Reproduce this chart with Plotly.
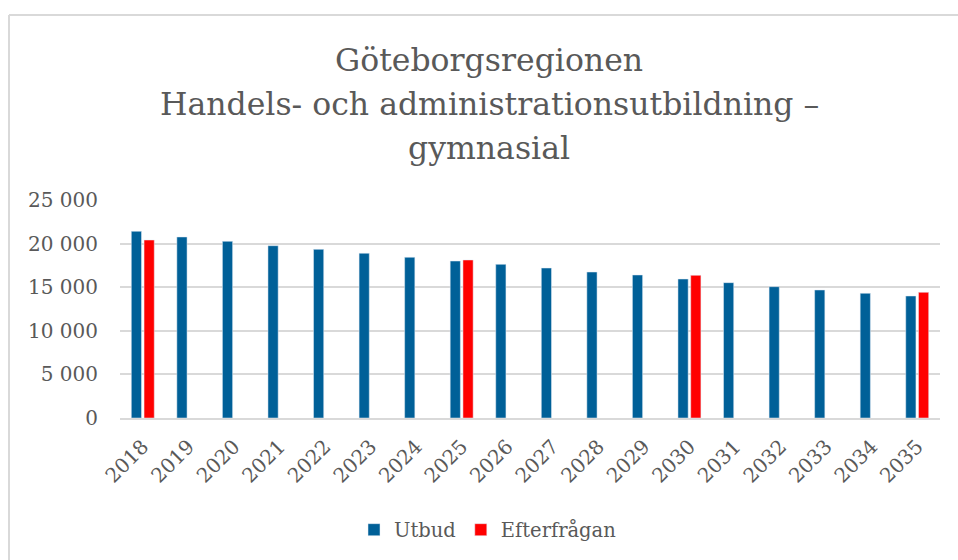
import plotly.graph_objects as go

years = [str(y) for y in range(2018, 2036)]
utbud = [21410, 20760, 20260, 19760, 19340, 18890, 18430, 18000, 17620, 17200,
         16740, 16400, 15940, 15520, 15060, 14680, 14300, 13990]
efterfragan = [20410, None, None, None, None, None, None, 18120, None, None,
               None, None, 16360, None, None, None, None, 14410]
ytick_vals = [0, 5000, 10000, 15000, 20000, 25000]
ytick_text = ["0", "5 000", "10 000", "15 000", "20 000", "25 000"]
title_lines = ["Göteborgsregionen", "Handels- och administrationsutbildning –", "gymnasial"]

FONT = "DejaVu Serif"
TXT = "#595959"

fig = go.Figure()
fig.add_bar(x=years, y=utbud, name="Utbud", marker_color="#006098")
fig.add_bar(x=years, y=efterfragan, name="Efterfrågan", marker_color="#FF0000")

W, H = 958, 560
L, R, T, B = 120, 18, 200, 142
PW, PH = W - L - R, H - T - B


def px(x):
    return (x - L) / PW


def py(y):
    return (H - B - y) / PH


title_y = [60, 104, 148]
annotations = [
    dict(text=t, xref="paper", yref="paper", x=px(489), y=py(yy), xanchor="center",
         yanchor="middle", showarrow=False, font=dict(family=FONT, size=31.5, color=TXT))
    for t, yy in zip(title_lines, title_y)
]

fig.update_layout(
    width=W, height=H,
    margin=dict(l=L, r=R, t=T, b=B, autoexpand=False),
    paper_bgcolor="white", plot_bgcolor="white",
    barmode="group", bargap=0.44, bargroupgap=0.2,
    font=dict(family=FONT, color=TXT, size=20),
    annotations=annotations,
    legend=dict(orientation="h", x=px(488), xanchor="center", y=py(530), yanchor="middle",
                font=dict(family=FONT, size=19.5, color=TXT), itemwidth=30,
                traceorder="normal"),
    xaxis=dict(showgrid=False, tickangle=-45, showline=True, linecolor="#D9D9D9",
               linewidth=2, ticks="", tickfont=dict(size=20), automargin=False,
               ticklabelstandoff=7),
    yaxis=dict(range=[0, 25000], tickvals=ytick_vals, ticktext=ytick_text,
               showgrid=True, gridcolor="#D9D9D9", gridwidth=2, zeroline=False,
               showline=False, ticks="", ticklen=0, tickfont=dict(size=20),
               automargin=False, ticklabelstandoff=21),
    shapes=[
        dict(type="line", xref="paper", yref="paper",
             x0=px(9), x1=px(W), y0=py(15), y1=py(15),
             line=dict(color="#D9D9D9", width=2)),
        dict(type="line", xref="paper", yref="paper",
             x0=px(9), x1=px(9), y0=py(15), y1=py(H),
             line=dict(color="#D9D9D9", width=2)),
    ],
)

fig.write_html(
    "out.html",
    config={"displayModeBar": False},
    post_script="document.body.style.margin='0';document.body.style.overflow='hidden';",
)
